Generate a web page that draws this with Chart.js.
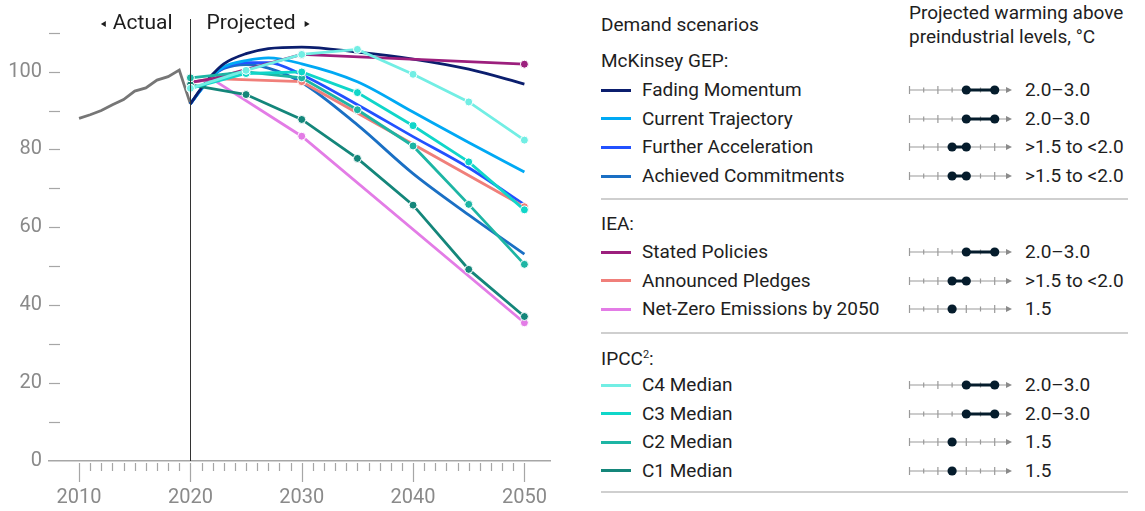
<!DOCTYPE html>
<html>
<head>
<meta charset="utf-8">
<script src="https://cdn.jsdelivr.net/npm/chart.js@4.4.1/dist/chart.umd.min.js"></script>
<style>
  body { margin: 0; background: #fff; font-family: Roboto, "Liberation Sans", sans-serif; }
  #wrap { position: relative; width: 1145px; height: 511px; overflow: hidden; }
  #chartBox { position: absolute; left: 0; top: 0; width: 565px; height: 511px; }
  .txt { position: absolute; font-size: 19px; color: #1e1e1e; white-space: nowrap; line-height: 24px; transform: translateY(-50%); }
  .swatch { position: absolute; left: 601px; width: 30px; height: 3px; margin-top: -1.5px; }
  .rule { position: absolute; left: 601px; width: 527px; height: 1.5px; background: #cfcfcf; }
  .glyph { position: absolute; left: 908px; margin-top: -8px; }
  sup { font-size: 11px; vertical-align: 7px; }
</style>
</head>
<body>
<div id="wrap">
  <div id="chartBox"><canvas id="demandChart"></canvas></div>
  <div id="legend"></div>
</div>
<script>
// historical index, 2010-2020
const actualYears = [2010, 2011, 2012, 2013, 2014, 2015, 2016, 2017, 2018, 2019, 2020];
const actualValues = [88.0, 88.9, 90.0, 91.5, 92.8, 95.0, 95.8, 97.8, 98.7, 100.4, 91.7];

// McKinsey GEP scenarios (smooth curves)
const gepYears = [2020, 2021, 2022, 2023, 2025, 2027, 2030, 2035, 2040, 2045, 2050];
const fadingMomentum = [91.7, 95.8, 99.3, 102.0, 104.6, 105.9, 106.3, 105.0, 103.2, 100.6, 96.8];
const currentTrajectory = [91.7, 95.5, 98.8, 101.2, 102.8, 103.5, 102.0, 97.4, 89.6, 81.8, 74.2];
const furtherAcceleration = [91.7, 95.5, 98.8, 101.0, 102.3, 102.3, 99.2, 91.5, 83.3, 75.3, 65.8];
const achievedCommitments = [91.7, 95.6, 99.0, 100.8, 101.8, 100.9, 97.2, 86.3, 73.8, 63.2, 53.1];

// IEA scenarios
const ieaYears = [2020, 2022, 2030, 2050];
const statedPolicies = [97.2, 98.2, 104.4, 101.9];
const announcedPledges = [97.2, 98.2, 97.4, 65.3];
const netZero2050 = [97.2, 98.0, 83.4, 35.5];

// IPCC category medians
const ipccYears = [2020, 2025, 2030, 2035, 2040, 2045, 2050];
const c4Median = [95.7, 100.3, 104.4, 105.7, 99.3, 92.2, 82.4];
const c3Median = [95.7, 99.5, 99.9, 94.6, 86.1, 76.8, 64.5];
const c2Median = [98.4, 99.9, 98.4, 90.2, 80.9, 65.9, 50.5];
const c1Median = [96.6, 94.1, 87.7, 77.7, 65.7, 49.2, 37.1];

// axis ticks
const xTickYears = [];
for (let y = 2010; y <= 2050; y++) xTickYears.push(y);
const yTickValues = [0, 10, 20, 30, 40, 50, 60, 70, 80, 90, 100, 110];

// legend: names, colours and warming range (°C)
const gepNames = ['Fading Momentum', 'Current Trajectory', 'Further Acceleration', 'Achieved Commitments'];
const gepColors = ['#0b1e6e', '#00a9f4', '#2251ff', '#1a6fc4'];
const gepWarming = [[2.0, 3.0], [2.0, 3.0], [1.5, 2.0], [1.5, 2.0]];
const gepWarmingText = ['2.0–3.0', '2.0–3.0', '>1.5 to <2.0', '>1.5 to <2.0'];

const ieaNames = ['Stated Policies', 'Announced Pledges', 'Net-Zero Emissions by 2050'];
const ieaColors = ['#9c1f7d', '#f07f7a', '#e37ce6'];
const ieaWarming = [[2.0, 3.0], [1.5, 2.0], [1.5]];
const ieaWarmingText = ['2.0–3.0', '>1.5 to <2.0', '1.5'];

const ipccNames = ['C4 Median', 'C3 Median', 'C2 Median', 'C1 Median'];
const ipccColors = ['#72eee4', '#10d6c9', '#1db5a4', '#14867a'];
const ipccWarming = [[2.0, 3.0], [2.0, 3.0], [1.5], [1.5]];
const ipccWarmingText = ['2.0–3.0', '2.0–3.0', '1.5', '1.5'];

function pts(xs, ys) {
  return xs.map((x, i) => ({ x: x, y: ys[i] }));
}

const datasets = [];
[c4Median, c3Median, c2Median, c1Median].forEach((vals, i) => {
  datasets.push({
    label: ipccNames[i], data: pts(ipccYears, vals),
    borderColor: ipccColors[i], backgroundColor: ipccColors[i],
    borderWidth: 2.8, pointRadius: 4, pointBorderColor: '#fff', pointBorderWidth: 1, tension: 0
  });
});
[statedPolicies, announcedPledges, netZero2050].forEach((vals, i) => {
  datasets.push({
    label: ieaNames[i], data: pts(ieaYears, vals),
    borderColor: ieaColors[i], backgroundColor: ieaColors[i],
    borderWidth: 2.8, pointRadius: ieaYears.map(y => y >= 2030 ? 4 : 0),
    pointBorderColor: '#fff', pointBorderWidth: 1, tension: 0
  });
});
[fadingMomentum, currentTrajectory, furtherAcceleration, achievedCommitments].forEach((vals, i) => {
  datasets.push({
    label: gepNames[i], data: pts(gepYears, vals),
    borderColor: gepColors[i], borderWidth: 2.8, pointRadius: 0,
    cubicInterpolationMode: 'monotone'
  });
});
datasets.push({
  label: 'Actual', data: pts(actualYears, actualValues),
  borderColor: '#767676', borderWidth: 2.8, pointRadius: 0, tension: 0
});

// tick marks, 2020 divider and the Actual / Projected captions
const axisMarks = {
  id: 'axisMarks',
  afterDraw(chart) {
    const { ctx, chartArea, scales: { x, y } } = chart;
    ctx.save();
    ctx.strokeStyle = '#a6a6a6';
    ctx.lineWidth = 1.2;
    xTickYears.forEach(v => {
      const px = Math.round(x.getPixelForValue(v)) + 0.5;
      const major = v % 10 === 0;
      ctx.beginPath();
      ctx.moveTo(px, chartArea.bottom + 2);
      ctx.lineTo(px, chartArea.bottom + (major ? 21 : 10));
      ctx.stroke();
    });
    yTickValues.forEach(v => {
      if (v === 0) return;
      const py = Math.round(y.getPixelForValue(v)) + 0.5;
      ctx.beginPath();
      ctx.moveTo(chartArea.left, py);
      ctx.lineTo(chartArea.left + 11, py);
      ctx.stroke();
    });

    const dx = Math.round(x.getPixelForValue(2020)) + 0.5;
    ctx.strokeStyle = '#333';
    ctx.lineWidth = 1;
    ctx.beginPath();
    ctx.moveTo(dx, chartArea.top);
    ctx.lineTo(dx, chartArea.bottom);
    ctx.stroke();

    ctx.fillStyle = '#1e1e1e';
    ctx.font = '21px Roboto, sans-serif';
    ctx.textBaseline = 'middle';
    ctx.textAlign = 'right';
    ctx.fillText('Actual', dx - 18, 24);
    const aw = ctx.measureText('Actual').width;
    const lx = dx - 18 - aw - 12;
    ctx.beginPath();
    ctx.moveTo(lx, 24); ctx.lineTo(lx + 5, 21); ctx.lineTo(lx + 5, 27); ctx.closePath(); ctx.fill();
    ctx.textAlign = 'left';
    ctx.fillText('Projected', dx + 16, 24);
    const pw = ctx.measureText('Projected').width;
    const rx = dx + 16 + pw + 9;
    ctx.beginPath();
    ctx.moveTo(rx + 5, 24); ctx.lineTo(rx, 21); ctx.lineTo(rx, 27); ctx.closePath(); ctx.fill();
    ctx.restore();
  }
};

new Chart(document.getElementById('demandChart'), {
  type: 'line',
  data: { datasets: datasets },
  options: {
    responsive: true,
    maintainAspectRatio: false,
    animation: false,
    layout: { padding: { top: 16, right: 15, left: 0, bottom: 0 } },
    plugins: { legend: { display: false }, tooltip: { enabled: false } },
    scales: {
      x: {
        type: 'linear', min: 2007.3, max: 2052.3,
        afterBuildTicks: s => { s.ticks = xTickYears.map(v => ({ value: v })); },
        afterFit: s => { s.height = 50; s.paddingLeft = 0; s.paddingRight = 0; },
        grid: { display: false, drawTicks: false },
        border: { display: true, color: '#a6a6a6', width: 1.5 },
        ticks: {
          autoSkip: false, maxRotation: 0, padding: 25, color: '#8a8a8a',
          font: { family: 'Roboto', size: 20 },
          callback: v => v % 10 === 0 ? String(v) : ''
        }
      },
      y: {
        min: 0, max: 113.5,
        afterBuildTicks: s => { s.ticks = yTickValues.map(v => ({ value: v })); },
        afterFit: s => { s.width = 49; },
        grid: { display: false, drawTicks: false },
        border: { display: false },
        ticks: {
          padding: 7, color: '#8a8a8a',
          font: { family: 'Roboto', size: 20 },
          callback: v => v % 20 === 0 ? String(v) : ''
        }
      }
    }
  },
  plugins: [axisMarks]
});

// legend panel
const legend = document.getElementById('legend');
function addText(html, left, y) {
  const d = document.createElement('div');
  d.className = 'txt';
  d.innerHTML = html;
  d.style.left = left + 'px';
  d.style.top = y + 'px';
  legend.appendChild(d);
}
function addRule(y) {
  const d = document.createElement('div');
  d.className = 'rule';
  d.style.top = y + 'px';
  legend.appendChild(d);
}
function warmingGlyph(range, y) {
  const sx = v => 1.5 + v * 28.4;
  let s = '<svg class="glyph" width="110" height="16" style="top:' + y + 'px">';
  s += '<line x1="1.5" y1="8" x2="100" y2="8" stroke="#9a9a9a" stroke-width="1.2"/>';
  for (let v = 0; v <= 3.01; v += 0.5) {
    const h = (Math.abs(v - Math.round(v)) < 0.01) ? 4 : 2.5;
    s += '<line x1="' + sx(v) + '" y1="' + (8 - h) + '" x2="' + sx(v) + '" y2="' + (8 + h) + '" stroke="#9a9a9a" stroke-width="1.2"/>';
  }
  s += '<polygon points="98,5 104,8 98,11" fill="#8a8a8a"/>';
  if (range.length > 1) {
    s += '<line x1="' + sx(range[0]) + '" y1="8" x2="' + sx(range[1]) + '" y2="8" stroke="#051c2c" stroke-width="3"/>';
  }
  range.forEach(v => { s += '<circle cx="' + sx(v) + '" cy="8" r="4.6" fill="#051c2c"/>'; });
  s += '</svg>';
  legend.insertAdjacentHTML('beforeend', s);
}
function addGroup(names, colors, warming, texts, rowYs) {
  names.forEach((n, i) => {
    const sw = document.createElement('div');
    sw.className = 'swatch';
    sw.style.top = rowYs[i] + 'px';
    sw.style.background = colors[i];
    legend.appendChild(sw);
    addText(n, 642, rowYs[i]);
    warmingGlyph(warming[i], rowYs[i]);
    addText(texts[i], 1025, rowYs[i]);
  });
}

addText('Demand scenarios', 601, 25);
addText('Projected warming above', 909, 13);
addText('preindustrial levels, °C', 909, 37);
addText('McKinsey GEP:', 601, 61);
addGroup(gepNames, gepColors, gepWarming, gepWarmingText, [90, 118.5, 147, 176]);
addRule(198);
addText('IEA:', 601, 224);
addGroup(ieaNames, ieaColors, ieaWarming, ieaWarmingText, [252, 280.5, 309]);
addRule(332);
addText('IPCC<sup>2</sup>:', 601, 357);
addGroup(ipccNames, ipccColors, ipccWarming, ipccWarmingText, [385, 413.5, 442, 470.5]);
addRule(491);
</script>
</body>
</html>
